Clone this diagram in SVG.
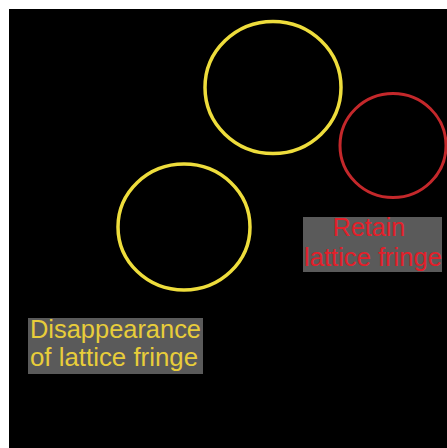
<svg xmlns="http://www.w3.org/2000/svg" width="447" height="448" viewBox="0 0 447 448">
  <style>
    .yc { fill: none; stroke: #eedd3c; stroke-width: 3.5; }
    .rc { fill: none; stroke: #c4282b; stroke-width: 3; }
    .box { fill: #5a5a5a; }
    .lbl { font-family: "Liberation Sans", Arial, sans-serif; font-size: 25px; }
    .ylbl { fill: #e8cd3a; }
    .rlbl { fill: #e3202a; }
  </style>
  <rect x="0" y="0" width="447" height="448" fill="#ffffff"/>
  <rect x="9" y="9" width="438" height="439" fill="#000000"/>
  <g id="circle-top">
    <ellipse class="yc" cx="273" cy="87.5" rx="68" ry="66"/>
  </g>
  <g id="circle-left">
    <ellipse class="yc" cx="184" cy="227" rx="66" ry="63"/>
  </g>
  <g id="circle-red">
    <ellipse class="rc" cx="393" cy="145.5" rx="53" ry="52"/>
  </g>
  <g id="label-retain">
    <rect class="box" x="303" y="217" width="139" height="55"/>
    <text class="lbl rlbl" x="369" y="236" text-anchor="middle">Retain</text>
    <text class="lbl rlbl" x="373" y="266" text-anchor="middle" textLength="138" lengthAdjust="spacingAndGlyphs">lattice fringe</text>
  </g>
  <g id="label-disappearance">
    <rect class="box" x="28" y="318" width="175" height="56"/>
    <text class="lbl ylbl" x="30" y="338" textLength="171" lengthAdjust="spacingAndGlyphs">Disappearance</text>
    <text class="lbl ylbl" x="30" y="366" textLength="168" lengthAdjust="spacingAndGlyphs">of lattice fringe</text>
  </g>
  <g id="connectors"/>
</svg>
